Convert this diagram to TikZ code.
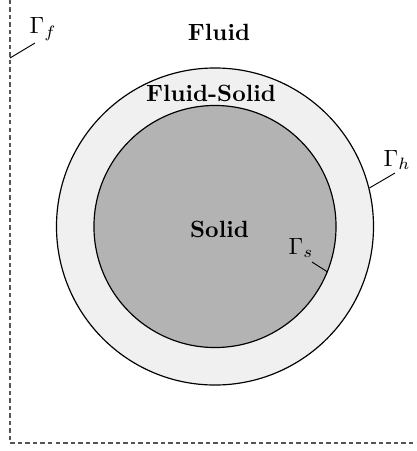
\documentclass[tikz,border=0pt]{standalone}
\definecolor{ringgray}{RGB}{240,240,240}
\definecolor{solidgray}{RGB}{179,179,179}
\definecolor{bordergray}{RGB}{85,85,85}
\tikzset{
  region/.style={circle, draw=black, line width=0.5pt, inner sep=0pt},
  lbl/.style={inner sep=0pt, font=\bfseries},
  gam/.style={inner sep=0pt},
  leader/.style={draw=black, line width=0.4pt},
  domainbox/.style={draw=bordergray, line width=0.5pt, dash pattern=on 1.9pt off 1.3pt}
}
\begin{document}
\begin{tikzpicture}[x=0.4255pt, y=-0.4255pt]
\useasboundingbox (0,0) rectangle (417,451);
\clip (0,0) rectangle (417,451);
\draw[domainbox] (10,-0.3) rectangle (430,443);
\node[region, fill=ringgray, minimum size=134.9pt] (outer) at (215,226.5) {};
\node[region, fill=solidgray, minimum size=103pt] (inner) at (215,226.5) {};
\node[lbl] (fluid) at (219,32) {Fluid};
\node[lbl] (fs) at (211,93) {Fluid-Solid};
\node[lbl] (solid) at (219.5,229) {Solid};
\node[gam] (gf) at (43,29) {$\Gamma_f$};
\node[gam] (gh) at (397,160) {$\Gamma_h$};
\node[gam] (gs) at (301,248) {$\Gamma_s$};
\coordinate (gfA) at (35,43);
\coordinate (gfB) at (10,58);
\coordinate (ghA) at (395,173);
\coordinate (gsA) at (312,262);
\draw[leader] (gfA) -- (gfB);
\draw[leader] (ghA) -- (outer.14);
\draw[leader] (gsA) -- (inner.-22);
\end{tikzpicture}
\end{document}
